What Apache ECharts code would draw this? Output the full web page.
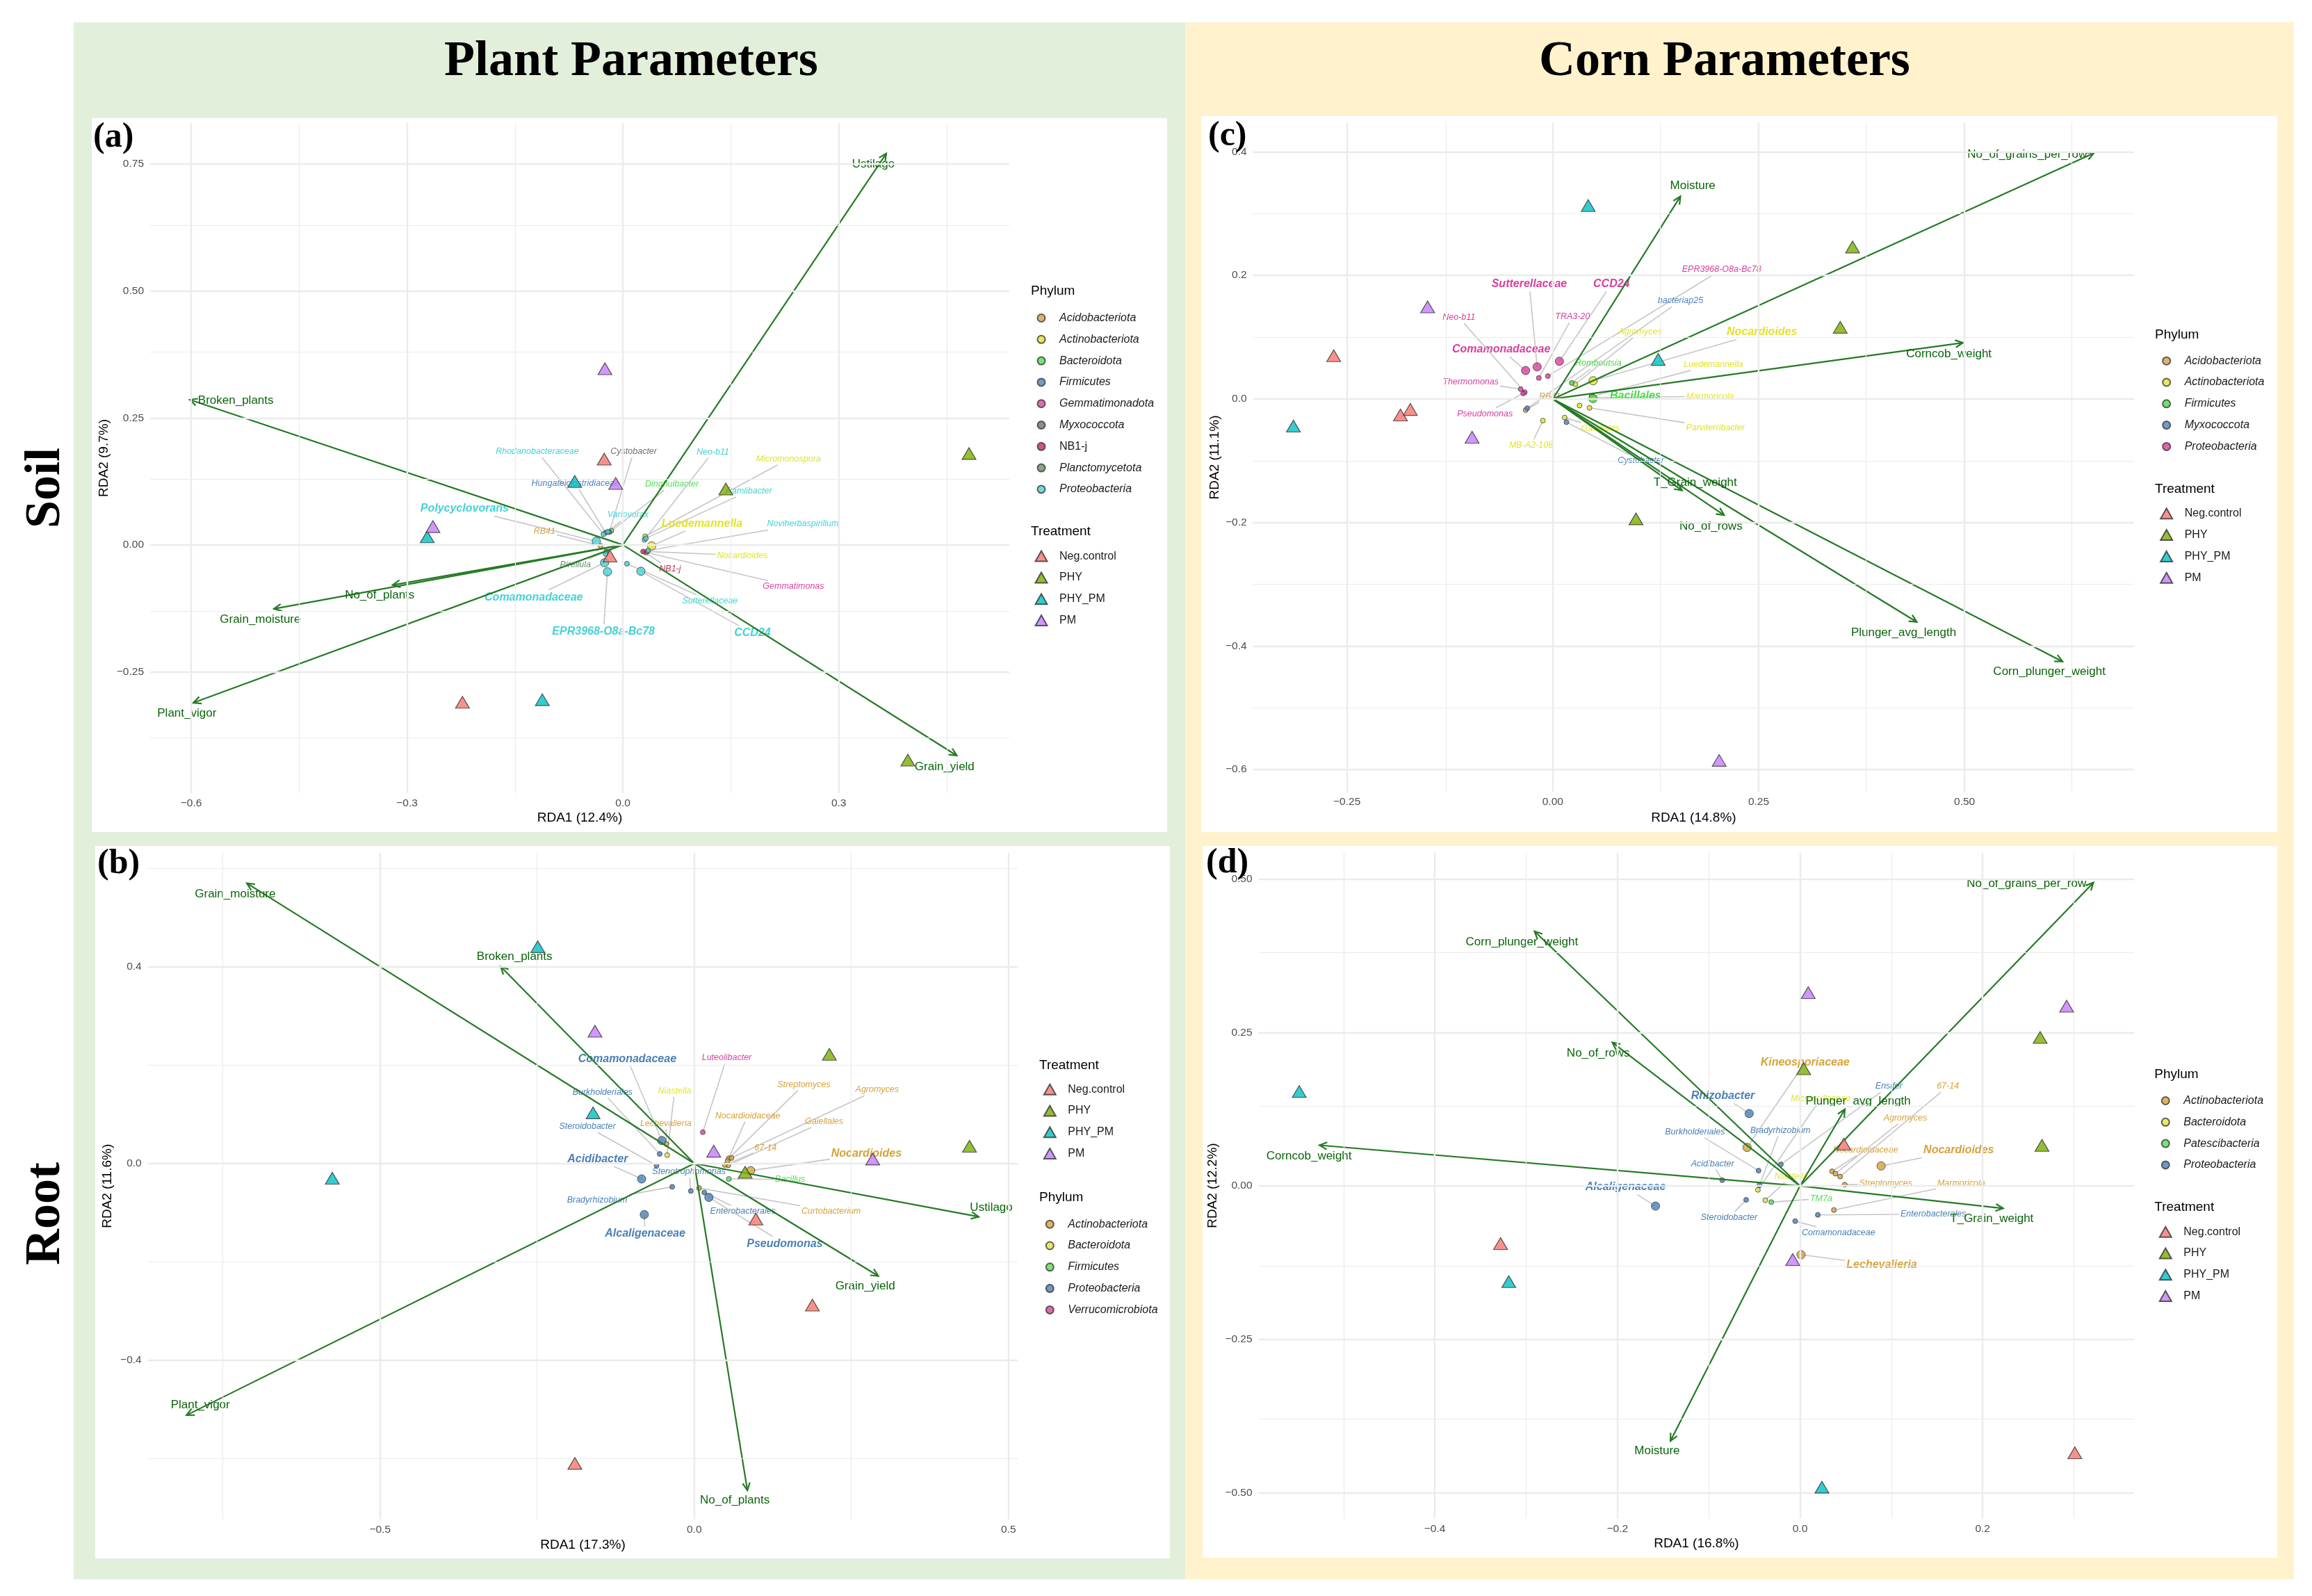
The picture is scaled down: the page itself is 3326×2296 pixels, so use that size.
<!DOCTYPE html>
<html><head><meta charset="utf-8">
<script src="https://cdn.jsdelivr.net/npm/echarts@6/dist/echarts.min.js"></script>
<style>html,body{margin:0;padding:0;background:#fff}#c{width:3326px;height:2296px}</style>
</head><body><div id="c"></div>
<script>
// ================= DATA =================
const TREATMENTS = ['Neg.control', 'PHY', 'PHY_PM', 'PM'];

// ---- (a) Soil · Plant parameters ----
const A_AXIS_NAMES = ['RDA1 (12.4%)', 'RDA2 (9.7%)'];
const A_XTICKS = [-0.6, -0.3, 0, 0.3];
const A_YTICKS = [-0.25, 0, 0.25, 0.5, 0.75];
const A_ARROWS = [
  ['Ustilago', 0.366, 0.771], ['Broken_plants', -0.602, 0.286], ['No_of_plants', -0.320, -0.079],
  ['Grain_moisture', -0.485, -0.126], ['Plant_vigor', -0.597, -0.311], ['Grain_yield', 0.464, -0.415]
];
const A_ARROW_LABELS = {
  Ustilago: [0.348, 0.750], Broken_plants: [-0.538, 0.284], No_of_plants: [-0.338, -0.099],
  Grain_moisture: [-0.504, -0.147], Plant_vigor: [-0.606, -0.332], Grain_yield: [0.447, -0.438]
};
const A_SAMPLES = [
  ['Neg.control', -0.026, 0.169], ['Neg.control', -0.223, -0.310], ['Neg.control', -0.018, -0.022],
  ['PHY', 0.481, 0.180], ['PHY', 0.143, 0.110], ['PHY', 0.396, -0.424],
  ['PHY_PM', -0.067, 0.125], ['PHY_PM', -0.272, 0.016], ['PHY_PM', -0.112, -0.305],
  ['PM', -0.025, 0.347], ['PM', -0.010, 0.121], ['PM', -0.264, 0.036]
];
const A_PHYLA = ['Acidobacteriota', 'Actinobacteriota', 'Bacteroidota', 'Firmicutes', 'Gemmatimonadota', 'Myxococcota', 'NB1-j', 'Planctomycetota', 'Proteobacteria'];
// [taxon, phylum, RDA1, RDA2, abundance class (1 low .. 3 high), highlighted]
const A_TAXA = [
  ['Rhodanobacteraceae', 'Proteobacteria', -0.027, 0.021, 1, 0],
  ['Hungateiclostridiaceae', 'Firmicutes', -0.024, 0.024, 1, 0],
  ['Cystobacter', 'Myxococcota', -0.019, 0.025, 1, 0],
  ['Variovorax', 'Proteobacteria', -0.021, 0.026, 1, 0],
  ['Dinghuibacter', 'Bacteroidota', -0.016, 0.028, 1, 0],
  ['Neo-b11', 'Proteobacteria', 0.030, 0.010, 1, 0],
  ['Micromonospora', 'Actinobacteriota', 0.031, 0.017, 1, 0],
  ['Ramlibacter', 'Proteobacteria', 0.032, 0.013, 1, 0],
  ['Polycyclovorans', 'Proteobacteria', -0.037, 0.007, 3, 1],
  ['Luedemannella', 'Actinobacteriota', 0.040, -0.002, 3, 1],
  ['Noviherbaspirillum', 'Proteobacteria', 0.035, -0.011, 1, 0],
  ['RB41', 'Acidobacteriota', -0.031, -0.002, 1, 0],
  ['Nocardioides', 'Actinobacteriota', 0.034, -0.013, 1, 0],
  ['Pirellula', 'Planctomycetota', -0.023, -0.013, 1, 0],
  ['NB1-j', 'NB1-j', 0.028, -0.013, 1, 0],
  ['Gemmatimonas', 'Gemmatimonadota', 0.032, -0.015, 1, 0],
  ['', 'Proteobacteria', -0.024, -0.018, 1, 0],
  ['Comamonadaceae', 'Proteobacteria', -0.0255, -0.035, 3, 1],
  ['Sutterellaceae', 'Proteobacteria', 0.0056, -0.037, 1, 0],
  ['EPR3968-O8a-Bc78', 'Proteobacteria', -0.0215, -0.053, 3, 1],
  ['CCD24', 'Proteobacteria', 0.025, -0.052, 3, 1]
];
const A_TAXON_LABELS = {
  'Rhodanobacteraceae': [-0.119, 0.184], 'Hungateiclostridiaceae': [-0.066, 0.121], 'Cystobacter': [0.015, 0.184],
  'Variovorax': [0.007, 0.059], 'Dinghuibacter': [0.068, 0.119], 'Neo-b11': [0.125, 0.183],
  'Micromonospora': [0.230, 0.169], 'Ramlibacter': [0.175, 0.106], 'Polycyclovorans': [-0.220, 0.071],
  'Luedemannella': [0.110, 0.042], 'Noviherbaspirillum': [0.250, 0.041], 'RB41': [-0.109, 0.026],
  'Nocardioides': [0.166, -0.021], 'Pirellula': [-0.066, -0.039], 'NB1-j': [0.0655, -0.047],
  'Gemmatimonas': [0.237, -0.082], 'Comamonadaceae': [-0.124, -0.103], 'Sutterellaceae': [0.121, -0.110],
  'EPR3968-O8a-Bc78': [-0.027, -0.171], 'CCD24': [0.180, -0.174]
};

// ---- (b) Root · Plant parameters ----
const B_AXIS_NAMES = ['RDA1 (17.3%)', 'RDA2 (11.6%)'];
const B_XTICKS = [-0.5, 0, 0.5];
const B_YTICKS = [-0.4, 0, 0.4];
const B_ARROWS = [
  ['Grain_moisture', -0.712, 0.570], ['Broken_plants', -0.308, 0.4005], ['Plant_vigor', -0.808, -0.512],
  ['Ustilago', 0.4526, -0.1084], ['Grain_yield', 0.293, -0.229], ['No_of_plants', 0.0846, -0.665]
];
const B_ARROW_LABELS = {
  Grain_moisture: [-0.7305, 0.548], Broken_plants: [-0.286, 0.420], Plant_vigor: [-0.786, -0.491],
  Ustilago: [0.4727, -0.0904], Grain_yield: [0.272, -0.250], No_of_plants: [0.0646, -0.685]
};
const B_SAMPLES = [
  ['Neg.control', 0.098, -0.113], ['Neg.control', 0.188, -0.288], ['Neg.control', -0.190, -0.610],
  ['PHY', 0.215, 0.222], ['PHY', 0.438, 0.035], ['PHY', 0.081, -0.018],
  ['PHY_PM', -0.249, 0.441], ['PHY_PM', -0.161, 0.103], ['PHY_PM', -0.576, -0.030],
  ['PM', -0.158, 0.269], ['PM', 0.031, 0.025], ['PM', 0.284, 0.009]
];
const B_PHYLA = ['Actinobacteriota', 'Bacteroidota', 'Firmicutes', 'Proteobacteria', 'Verrucomicrobiota'];
const B_TAXA = [
  ['Comamonadaceae', 'Proteobacteria', -0.0516, 0.0467, 3, 1],
  ['Lechevalieria', 'Actinobacteriota', -0.0444, 0.0396, 1, 0],
  ['Burkholderiales', 'Proteobacteria', -0.055, 0.0194, 1, 0],
  ['Niastella', 'Bacteroidota', -0.0431, 0.017, 1, 0],
  ['Steroidobacter', 'Proteobacteria', -0.060, -0.0042, 1, 0],
  ['Luteolibacter', 'Verrucomicrobiota', 0.0136, 0.0636, 1, 0],
  ['Acidibacter', 'Proteobacteria', -0.0837, -0.0315, 3, 1],
  ['Bradyrhizobium', 'Proteobacteria', -0.035, -0.0475, 1, 0],
  ['Stenotrophomonas', 'Proteobacteria', -0.0054, -0.056, 1, 0],
  ['Curtobacterium', 'Actinobacteriota', 0.0077, -0.050, 1, 0],
  ['Enterobacterales', 'Proteobacteria', 0.016, -0.059, 1, 0],
  ['Pseudomonas', 'Proteobacteria', 0.0233, -0.069, 3, 1],
  ['Alcaligenaceae', 'Proteobacteria', -0.0795, -0.104, 3, 1],
  ['Bacillus', 'Firmicutes', 0.055, -0.0315, 1, 0],
  ['Nocardioides', 'Actinobacteriota', 0.0898, -0.0146, 3, 1],
  ['Streptomyces', 'Actinobacteriota', 0.0551, 0.0105, 1, 0],
  ['Agromyces', 'Actinobacteriota', 0.0593, 0.0112, 1, 0],
  ['Nocardioidaceae', 'Actinobacteriota', 0.053, 0.0052, 1, 0],
  ['Gaiellales', 'Actinobacteriota', 0.0542, -0.0037, 1, 0],
  ['67-14', 'Actinobacteriota', 0.0488, -0.003, 1, 0]
];
const B_TAXON_LABELS = {
  'Comamonadaceae': [-0.1066, 0.2126], 'Luteolibacter': [0.0517, 0.2149], 'Burkholderiales': [-0.146, 0.145],
  'Niastella': [-0.0313, 0.1475], 'Streptomyces': [0.1745, 0.1607], 'Agromyces': [0.291, 0.1499],
  'Nocardioidaceae': [0.085, 0.097], 'Gaiellales': [0.2066, 0.0853], 'Lechevalieria': [-0.0452, 0.0816],
  'Steroidobacter': [-0.170, 0.075], '67-14': [0.1135, 0.032], 'Nocardioides': [0.274, 0.0194],
  'Acidibacter': [-0.1536, 0.009], 'Stenotrophomonas': [-0.0084, -0.017], 'Bacillus': [0.1525, -0.0325],
  'Bradyrhizobium': [-0.1545, -0.0749], 'Enterobacterales': [0.0775, -0.0975], 'Curtobacterium': [0.218, -0.097],
  'Alcaligenaceae': [-0.0782, -0.143], 'Pseudomonas': [0.144, -0.1634]
};

// ---- (c) Soil · Corn parameters ----
const C_AXIS_NAMES = ['RDA1 (14.8%)', 'RDA2 (11.1%)'];
const C_XTICKS = [-0.25, 0, 0.25, 0.5];
const C_YTICKS = [-0.6, -0.4, -0.2, 0, 0.2, 0.4];
const C_ARROWS = [
  ['No_of_grains_per_row', 0.657, 0.398], ['Moisture', 0.155, 0.328], ['Corncob_weight', 0.498, 0.091],
  ['T_Grain_weight', 0.157, -0.148], ['No_of_rows', 0.208, -0.188], ['Plunger_avg_length', 0.442, -0.361],
  ['Corn_plunger_weight', 0.619, -0.425]
];
const C_ARROW_LABELS = {
  No_of_grains_per_row: [0.576, 0.396], Moisture: [0.170, 0.345], Corncob_weight: [0.481, 0.073],
  T_Grain_weight: [0.173, -0.135], No_of_rows: [0.192, -0.206], Plunger_avg_length: [0.426, -0.378],
  Corn_plunger_weight: [0.603, -0.442]
};
const C_SAMPLES = [
  ['Neg.control', -0.266, 0.070], ['Neg.control', -0.185, -0.026], ['Neg.control', -0.173, -0.017],
  ['PHY', 0.364, 0.246], ['PHY', 0.349, 0.116], ['PHY', 0.101, -0.194],
  ['PHY_PM', 0.043, 0.313], ['PHY_PM', 0.128, 0.064], ['PHY_PM', -0.315, -0.044],
  ['PM', -0.152, 0.149], ['PM', -0.098, -0.062], ['PM', 0.202, -0.585]
];
const C_PHYLA = ['Acidobacteriota', 'Actinobacteriota', 'Firmicutes', 'Myxococcota', 'Proteobacteria'];
const C_TAXA = [
  ['Comamonadaceae', 'Proteobacteria', -0.033, 0.046, 3, 1],
  ['Sutterellaceae', 'Proteobacteria', -0.019, 0.052, 3, 1],
  ['CCD24', 'Proteobacteria', 0.008, 0.061, 3, 1],
  ['TRA3-20', 'Proteobacteria', -0.017, 0.034, 1, 0],
  ['EPR3968-O8a-Bc78', 'Proteobacteria', -0.006, 0.037, 1, 0],
  ['Thermomonas', 'Proteobacteria', -0.039, 0.016, 1, 0],
  ['Neo-b11', 'Proteobacteria', -0.034, 0.011, 1, 0],
  ['Pseudomonas', 'Proteobacteria', -0.036, 0.009, 1, 0],
  ['RB41', 'Acidobacteriota', -0.033, -0.018, 1, 0],
  ['bacteriap25', 'Myxococcota', -0.031, -0.015, 1, 0],
  ['MB-A2-108', 'Actinobacteriota', -0.012, -0.035, 1, 0],
  ['Gaiellales', 'Actinobacteriota', 0.0144, -0.030, 1, 0],
  ['Cystobacter', 'Myxococcota', 0.0166, -0.0375, 1, 0],
  ['', 'Actinobacteriota', 0.0325, -0.0106, 1, 0],
  ['Parviterribacter', 'Actinobacteriota', 0.0446, -0.0144, 1, 0],
  ['Romboutsia', 'Firmicutes', 0.023, 0.026, 1, 0],
  ['Agromyces', 'Actinobacteriota', 0.0274, 0.0239, 1, 0],
  ['Nocardioides', 'Actinobacteriota', 0.0489, 0.0295, 3, 1],
  ['Luedemannella', 'Actinobacteriota', 0.047, 0.004, 1, 0],
  ['Marmoricola', 'Actinobacteriota', 0.050, 0.002, 1, 0],
  ['Bacillales', 'Firmicutes', 0.0489, 0.0007, 3, 1]
];
const C_TAXON_LABELS = {
  'EPR3968-O8a-Bc78': [0.205, 0.2095], 'Sutterellaceae': [-0.0286, 0.186], 'CCD24': [0.0713, 0.186],
  'bacteriap25': [0.155, 0.159], 'Neo-b11': [-0.114, 0.132], 'TRA3-20': [0.024, 0.133],
  'Agromyces': [0.106, 0.108], 'Nocardioides': [0.254, 0.108], 'Comamonadaceae': [-0.0626, 0.080],
  'Romboutsia': [0.0553, 0.0577], 'Luedemannella': [0.195, 0.0558], 'Thermomonas': [-0.0997, 0.028],
  'RB41': [-0.0036, 0.0044], 'Bacillales': [0.1005, 0.0044], 'Marmoricola': [0.191, 0.0044],
  'Pseudomonas': [-0.0824, -0.0237], 'Parviterribacter': [0.1975, -0.0462], 'Gaiellales': [0.0575, -0.048],
  'MB-A2-108': [-0.0264, -0.0744], 'Cystobacter': [0.107, -0.0999]
};

// ---- (d) Root · Corn parameters ----
const D_AXIS_NAMES = ['RDA1 (16.8%)', 'RDA2 (12.2%)'];
const D_XTICKS = [-0.4, -0.2, 0, 0.2];
const D_YTICKS = [-0.5, -0.25, 0, 0.25, 0.5];
const D_ARROWS = [
  ['No_of_grains_per_row', 0.3214, 0.4944], ['Corn_plunger_weight', -0.2908, 0.415], ['No_of_rows', -0.2056, 0.2339],
  ['Corncob_weight', -0.5263, 0.0663], ['Plunger_avg_length', 0.0491, 0.1249], ['T_Grain_weight', 0.2225, -0.0366],
  ['Moisture', -0.1419, -0.4159]
];
const D_ARROW_LABELS = {
  No_of_grains_per_row: [0.248, 0.493], Corn_plunger_weight: [-0.3046, 0.3976], No_of_rows: [-0.221, 0.2163],
  Corncob_weight: [-0.5378, 0.0488], Plunger_avg_length: [0.0637, 0.1379], T_Grain_weight: [0.210, -0.0541],
  Moisture: [-0.1565, -0.4319]
};
const D_SAMPLES = [
  ['Neg.control', 0.048, 0.068], ['Neg.control', -0.328, -0.094], ['Neg.control', 0.301, -0.435],
  ['PHY', 0.004, 0.191], ['PHY', 0.263, 0.242], ['PHY', 0.265, 0.066],
  ['PHY_PM', -0.5485, 0.154], ['PHY_PM', -0.319, -0.156], ['PHY_PM', 0.024, -0.491],
  ['PM', 0.009, 0.315], ['PM', 0.292, 0.293], ['PM', -0.008, -0.120]
];
const D_PHYLA = ['Actinobacteriota', 'Bacteroidota', 'Patescibacteria', 'Proteobacteria'];
const D_TAXA = [
  ['Rhizobacter', 'Proteobacteria', -0.0557, 0.118, 3, 1],
  ['Kineosporiaceae', 'Actinobacteriota', -0.058, 0.0627, 3, 1],
  ['Ensifer', 'Proteobacteria', -0.021, 0.0351, 1, 0],
  ['Burkholderiales', 'Proteobacteria', -0.0454, 0.0249, 1, 0],
  ['Acidibacter', 'Proteobacteria', -0.0852, 0.0094, 1, 0],
  ['Bradyrhizobium', 'Proteobacteria', -0.0444, 0.0011, 1, 0],
  ['Microscillaceae', 'Bacteroidota', -0.0461, -0.0064, 1, 0],
  ['Steroidobacter', 'Proteobacteria', -0.059, -0.0227, 1, 0],
  ['Niastella', 'Bacteroidota', -0.038, -0.0234, 1, 0],
  ['TM7a', 'Patescibacteria', -0.0315, -0.0264, 1, 0],
  ['Alcaligenaceae', 'Proteobacteria', -0.1583, -0.0329, 3, 1],
  ['Comamonadaceae', 'Proteobacteria', -0.0053, -0.0574, 1, 0],
  ['Enterobacterales', 'Proteobacteria', 0.0195, -0.0472, 1, 0],
  ['Marmoricola', 'Actinobacteriota', 0.0371, -0.0393, 1, 0],
  ['Streptomyces', 'Actinobacteriota', 0.049, 0.0019, 1, 0],
  ['Nocardioidaceae', 'Actinobacteriota', 0.0351, 0.0238, 1, 0],
  ['Agromyces', 'Actinobacteriota', 0.0388, 0.020, 1, 0],
  ['67-14', 'Actinobacteriota', 0.0439, 0.0153, 1, 0],
  ['Nocardioides', 'Actinobacteriota', 0.0888, 0.0325, 3, 1],
  ['Lechevalieria', 'Actinobacteriota', 0.0011, -0.1121, 3, 1]
];
const D_TAXON_LABELS = {
  'Kineosporiaceae': [0.0055, 0.2013], 'Rhizobacter': [-0.0845, 0.1465], 'Ensifer': [0.0973, 0.1623],
  '67-14': [0.1619, 0.1623], 'Microscillaceae': [0.0225, 0.142], 'Agromyces': [0.1153, 0.1106],
  'Burkholderiales': [-0.1151, 0.088], 'Bradyrhizobium': [-0.0216, 0.0906], 'Nocardioidaceae': [0.0718, 0.0589],
  'Nocardioides': [0.1738, 0.0578], 'Acidibacter': [-0.0958, 0.0362], 'Niastella': [-0.0097, 0.0151],
  'Streptomyces': [0.0939, 0.0038], 'Marmoricola': [0.1765, 0.0038], 'Alcaligenaceae': [-0.191, -0.0023],
  'TM7a': [0.0232, -0.0208], 'Enterobacterales': [0.146, -0.0461], 'Steroidobacter': [-0.0777, -0.0517],
  'Comamonadaceae': [0.0422, -0.0763], 'Lechevalieria': [0.0895, -0.1291]
};

// ================= STYLE / LAYOUT =================
const FONT = '"Liberation Sans", Arial, sans-serif';
const SERIF = '"Liberation Serif", "Times New Roman", serif';
const ARROW_COLOR = '#257A25';
const ARROW_TEXT = '#0A650A';
const TREAT_COLORS = { 'Neg.control': '#F8766D', 'PHY': '#7CAE00', 'PHY_PM': '#00BFC4', 'PM': '#C77CFF' };
const PAL_A = { Acidobacteriota: '#D6A34A', Actinobacteriota: '#E4E22C', Bacteroidota: '#55DD55', Firmicutes: '#4F82C0',
  Gemmatimonadota: '#D8459F', Myxococcota: '#707070', 'NB1-j': '#C0304F', Planctomycetota: '#6F8C6F', Proteobacteria: '#45D2D6' };
const PAL_B = { Actinobacteriota: '#D6A33A', Bacteroidota: '#E3E33C', Firmicutes: '#55DD55', Proteobacteria: '#4A80B6', Verrucomicrobiota: '#D8459F' };
const PAL_C = { Acidobacteriota: '#D6A34A', Actinobacteriota: '#E4E22C', Firmicutes: '#44DD44', Myxococcota: '#4F82C0', Proteobacteria: '#D8409C' };
const PAL_D = { Actinobacteriota: '#D6A33A', Bacteroidota: '#E3E33C', Patescibacteria: '#55DD55', Proteobacteria: '#4A80B6' };

const PANELS = [
  { id: 'a', letter: '(a)', names: A_AXIS_NAMES, xt: A_XTICKS, yt: A_YTICKS, xDec: 1, yDec: 2,
    arrows: A_ARROWS, arrowLabels: A_ARROW_LABELS, samples: A_SAMPLES, phyla: A_PHYLA, taxa: A_TAXA, taxonLabels: A_TAXON_LABELS, pal: PAL_A,
    grid: { l: 216, t: 177, r: 1452, b: 1141 }, xr: [-0.657, 0.537], yr: [-0.489, 0.831], xGap: 26.5, yGap: 56.5,
    rect: [132, 170, 1679, 1197], letterPos: [134, 198.5],
    leg: { titleX: 1483, symX: 1497, blocks: [['phylum', 419, 454], ['treatment', 765, 798.6]] } },
  { id: 'b', letter: '(b)', names: B_AXIS_NAMES, xt: B_XTICKS, yt: B_YTICKS, xDec: 1, yDec: 1,
    arrows: B_ARROWS, arrowLabels: B_ARROW_LABELS, samples: B_SAMPLES, phyla: B_PHYLA, taxa: B_TAXA, taxonLabels: B_TAXON_LABELS, pal: PAL_B,
    grid: { l: 212.7, t: 1226.8, r: 1464.3, b: 2185.8 }, xr: [-0.8695, 0.515], yr: [-0.724, 0.632], xGap: 27.5, yGap: 48,
    rect: [137, 1217, 1683, 2242], letterPos: [140, 1243.5],
    leg: { titleX: 1495, symX: 1509.3, blocks: [['treatment', 1532.3, 1565.7], ['phylum', 1722.7, 1757.7]] } },
  { id: 'c', letter: '(c)', names: C_AXIS_NAMES, xt: C_XTICKS, yt: C_YTICKS, xDec: 2, yDec: 1,
    arrows: C_ARROWS, arrowLabels: C_ARROW_LABELS, samples: C_SAMPLES, phyla: C_PHYLA, taxa: C_TAXA, taxonLabels: C_TAXON_LABELS, pal: PAL_C,
    grid: { l: 1802.6, t: 176.7, r: 3070.2, b: 1139.2 }, xr: [-0.364, 0.706], yr: [-0.636, 0.447], xGap: 28, yGap: 45,
    rect: [1728, 167, 3276, 1197], letterPos: [1738, 196.5],
    leg: { titleX: 3100, symX: 3115.7, blocks: [['phylum', 481.5, 515.7], ['treatment', 703.3, 737.3]] } },
  { id: 'd', letter: '(d)', names: D_AXIS_NAMES, xt: D_XTICKS, yt: D_YTICKS, xDec: 1, yDec: 2,
    arrows: D_ARROWS, arrowLabels: D_ARROW_LABELS, samples: D_SAMPLES, phyla: D_PHYLA, taxa: D_TAXA, taxonLabels: D_TAXON_LABELS, pal: PAL_D,
    grid: { l: 1810.6, t: 1226.8, r: 3070.2, b: 2184.4 }, xr: [-0.593, 0.366], yr: [-0.542, 0.543], xGap: 27, yGap: 56,
    rect: [1730, 1217, 3276, 2241], letterPos: [1735, 1242.5],
    leg: { titleX: 3099.3, symX: 3114.3, blocks: [['phylum', 1546, 1580], ['treatment', 1736.7, 1770.7]] } }
];

// ================= HELPERS =================
const mctx = document.createElement('canvas').getContext('2d');
function textWidth(t, font) { mctx.font = font; return mctx.measureText(t).width; }
function fmt(v, d) { return (v < -1e-9 ? '\u2212' : '') + Math.abs(v).toFixed(d); }
function minorTicks(ticks, range) {
  const step = ticks[1] - ticks[0]; const out = [];
  for (let v = ticks[0] - step / 2; v <= range[1] + 1e-9; v += step) if (v >= range[0]) out.push(+v.toFixed(4));
  return out;
}
function txt(x, y, text, o) {
  return Object.assign({ type: 'text', x: x, y: y, z: 100,
    style: Object.assign({ text: text, fill: '#000', fontFamily: FONT, fontSize: 19,
      align: 'left', verticalAlign: 'middle', textAlign: 'left', textVerticalAlign: 'middle' }, o.style || {}) }, o.el || {});
}

// ================= BUILD OPTION =================
const graphics = [
  { type: 'rect', z: -20, shape: { x: 106, y: 32, width: 1599, height: 2240 }, style: { fill: '#E2EFDA' } },
  { type: 'rect', z: -20, shape: { x: 1705, y: 32, width: 1595, height: 2240 }, style: { fill: '#FFF2CC' } },
  txt(908, 89, 'Plant Parameters', { style: { fontFamily: SERIF, fontSize: 72, fontWeight: 'bold', align: 'center', textAlign: 'center' } }),
  txt(2481, 89, 'Corn Parameters', { style: { fontFamily: SERIF, fontSize: 72, fontWeight: 'bold', align: 'center', textAlign: 'center' } }),
  txt(66, 702, 'Soil', { el: { rotation: Math.PI / 2 }, style: { fontFamily: SERIF, fontSize: 72, fontWeight: 'bold', align: 'center', textAlign: 'center' } }),
  txt(66, 1746, 'Root', { el: { rotation: Math.PI / 2 }, style: { fontFamily: SERIF, fontSize: 72, fontWeight: 'bold', align: 'center', textAlign: 'center' } })
];
const grids = [], xAxes = [], yAxes = [], legends = [], series = [];

PANELS.forEach((P, gi) => {
  const r = P.rect;
  graphics.push({ type: 'rect', z: -10, shape: { x: r[0], y: r[1], width: r[2] - r[0], height: r[3] - r[1] }, style: { fill: '#FFFFFF' } });
  graphics.push(txt(P.letterPos[0], P.letterPos[1], P.letter, { style: { fontFamily: SERIF, fontSize: 50, fontWeight: 'bold' } }));

  grids.push({ left: P.grid.l, top: P.grid.t, width: P.grid.r - P.grid.l, height: P.grid.b - P.grid.t, containLabel: false });
  const axisCommon = { type: 'value', gridIndex: gi, nameLocation: 'middle',
    nameTextStyle: { color: '#000', fontSize: 19, fontFamily: FONT },
    axisLine: { show: false }, axisTick: { show: false }, splitLine: { show: false } };
  xAxes.push(Object.assign({}, axisCommon, { min: P.xr[0], max: P.xr[1], name: P.names[0], nameGap: P.xGap,
    axisLabel: { customValues: P.xt, formatter: v => fmt(v, P.xDec), margin: 7, color: '#4D4D4D', fontSize: 15.5, fontFamily: FONT } }));
  yAxes.push(Object.assign({}, axisCommon, { min: P.yr[0], max: P.yr[1], name: P.names[1], nameGap: P.yGap,
    axisLabel: { customValues: P.yt, formatter: v => fmt(v, P.yDec), margin: 9, color: '#4D4D4D', fontSize: 15.5, fontFamily: FONT } }));

  // grid lines (major + minor) through the axis scales
  const gl = [];
  P.xt.forEach(v => gl.push({ xAxis: v, lineStyle: { width: 2.4 } }));
  P.yt.forEach(v => gl.push({ yAxis: v, lineStyle: { width: 2.4 } }));
  minorTicks(P.xt, P.xr).forEach(v => gl.push({ xAxis: v, lineStyle: { width: 1.2 } }));
  minorTicks(P.yt, P.yr).forEach(v => gl.push({ yAxis: v, lineStyle: { width: 1.2 } }));
  series.push({ type: 'scatter', xAxisIndex: gi, yAxisIndex: gi, data: [], z: 1, silent: true,
    markLine: { silent: true, animation: false, symbol: ['none', 'none'], label: { show: false },
      lineStyle: { type: 'solid', color: '#EBEBEB' }, emphasis: { disabled: true }, data: gl } });

  // taxon labels with leader segments
  const rows = P.taxa.filter(t => t[0] && P.taxonLabels[t[0]]);
  series.push({ type: 'custom', xAxisIndex: gi, yAxisIndex: gi, z: 2, silent: true, clip: false,
    data: rows.map(t => [t[2], t[3]]),
    renderItem(params, api) {
      const t = rows[params.dataIndex];
      const lab = P.taxonLabels[t[0]];
      const pt = api.coord([t[2], t[3]]);
      const c = api.coord(lab);
      const size = t[5] ? 16 : 12.5;
      const weight = t[5] ? 'bold' : 'normal';
      const w = textWidth(t[0], 'italic ' + weight + ' ' + size + 'px ' + FONT);
      const hw = w / 2 + 2, hh = size * 0.6 + 1;
      const dx = pt[0] - c[0], dy = pt[1] - c[1];
      const s = Math.min(dx ? hw / Math.abs(dx) : Infinity, dy ? hh / Math.abs(dy) : Infinity);
      const ch = [];
      if (s < 1) ch.push({ type: 'line', shape: { x1: c[0] + dx * s, y1: c[1] + dy * s, x2: pt[0], y2: pt[1] },
        style: { stroke: '#C6C6C6', lineWidth: 1.6 } });
      ch.push({ type: 'text', x: c[0], y: c[1], style: { text: t[0], fill: P.pal[t[1]], fontFamily: FONT, fontSize: size,
        fontStyle: 'italic', fontWeight: weight, align: 'center', verticalAlign: 'middle', textAlign: 'center', textVerticalAlign: 'middle' } });
      return { type: 'group', children: ch };
    } });

  // taxa points by phylum
  P.phyla.forEach(ph => {
    series.push({ type: 'scatter', name: P.id + '|' + ph, xAxisIndex: gi, yAxisIndex: gi, z: 3, silent: true,
      symbol: 'circle', symbolSize: v => (v[2] >= 3 ? 12 : 7),
      itemStyle: { color: P.pal[ph], borderColor: '#3A3A3A', borderWidth: 1, opacity: 0.8 },
      data: P.taxa.filter(t => t[1] === ph).map(t => [t[2], t[3], t[4]]) });
  });

  // biplot arrows
  series.push({ type: 'custom', xAxisIndex: gi, yAxisIndex: gi, z: 4, silent: true, clip: false,
    data: P.arrows.map(a => [a[1], a[2]]),
    renderItem(params, api) {
      const a = P.arrows[params.dataIndex];
      const p0 = api.coord([0, 0]), p1 = api.coord([a[1], a[2]]);
      const lp = api.coord(P.arrowLabels[a[0]]);
      const ang = Math.atan2(p1[1] - p0[1], p1[0] - p0[0]);
      const L = 12, w = Math.PI / 7;
      const h1 = [p1[0] - L * Math.cos(ang - w), p1[1] - L * Math.sin(ang - w)];
      const h2 = [p1[0] - L * Math.cos(ang + w), p1[1] - L * Math.sin(ang + w)];
      return { type: 'group', children: [
        { type: 'line', shape: { x1: p0[0], y1: p0[1], x2: p1[0], y2: p1[1] }, style: { stroke: ARROW_COLOR, lineWidth: 2.2 } },
        { type: 'polyline', shape: { points: [h1, p1, h2] }, style: { stroke: ARROW_COLOR, lineWidth: 2.2, fill: null } },
        { type: 'text', x: lp[0], y: lp[1], z2: 10, style: { text: a[0], fill: ARROW_TEXT, fontFamily: FONT, fontSize: 17,
          align: 'center', verticalAlign: 'middle', textAlign: 'center', textVerticalAlign: 'middle' } }
      ] };
    } });

  // samples by treatment
  TREATMENTS.forEach(tr => {
    series.push({ type: 'scatter', name: P.id + '|' + tr, xAxisIndex: gi, yAxisIndex: gi, z: 5, silent: true,
      symbol: 'triangle', symbolSize: [20, 17],
      itemStyle: { color: TREAT_COLORS[tr], borderColor: '#333333', borderWidth: 1.2 },
      data: P.samples.filter(s => s[0] === tr).map(s => [s[1], s[2]]) });
  });

  // legends
  P.leg.blocks.forEach(([kind, titleY, firstY]) => {
    graphics.push(txt(P.leg.titleX, titleY, kind === 'phylum' ? 'Phylum' : 'Treatment', { style: { fontSize: 19 } }));
    const isPh = kind === 'phylum';
    const iw = isPh ? 11 : 17, ih = isPh ? 11 : 15;
    legends.push({ orient: 'vertical', left: P.leg.symX - iw / 2, top: firstY - ih / 2, padding: 0,
      itemGap: 12.8, itemWidth: iw, itemHeight: ih, selectedMode: false, symbolKeepAspect: true,
      formatter: n => n.split('|')[1],
      textStyle: { fontFamily: FONT, fontSize: 16, color: '#1A1A1A', lineHeight: 18, padding: [0, 0, 0, isPh ? 15.5 : 12.5] },
      data: isPh
        ? P.phyla.map(p => ({ name: P.id + '|' + p, icon: 'circle', textStyle: { fontStyle: p === 'NB1-j' ? 'normal' : 'italic' } }))
        : TREATMENTS.map(t => ({ name: P.id + '|' + t, icon: 'triangle' })) });
  });
});

const chart = echarts.init(document.getElementById('c'), null, { renderer: 'canvas' });
chart.setOption({
  animation: false, backgroundColor: '#FFFFFF', textStyle: { fontFamily: FONT },
  graphic: { elements: graphics },
  grid: grids, xAxis: xAxes, yAxis: yAxes, legend: legends, series: series
});
</script></body></html>
